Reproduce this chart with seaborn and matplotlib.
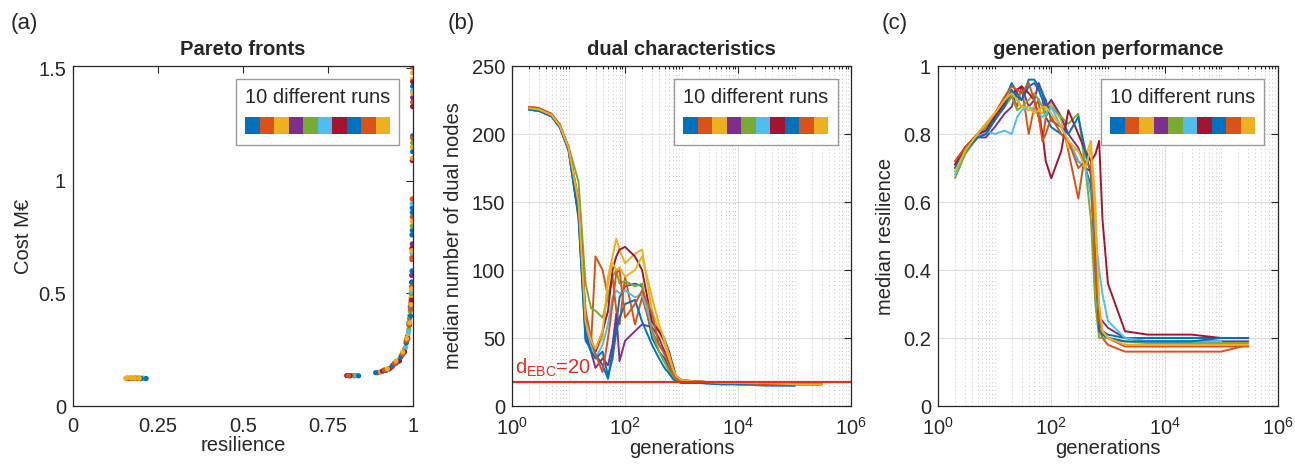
import numpy as np
import pandas as pd
import matplotlib
matplotlib.use("Agg")
import matplotlib.pyplot as plt
import matplotlib.ticker as mticker
from matplotlib.patches import Patch
import seaborn as sns

# ---------------- data ----------------
run_colors = ["#0072BD", "#D95319", "#EDB120", "#7E2F8E", "#77AC30",
              "#4DBEEE", "#A2142F", "#0072BD", "#D95319", "#EDB120"]
run_names = [f"run {i}" for i in range(1, 11)]

# (a) Pareto fronts: resilience / cost (M€) per run
a_res_1 = [0.165, 0.178, 0.19, 0.2, 0.212, 0.815, 0.83, 0.895, 0.935, 0.958, 0.972, 0.982, 0.988, 0.992, 0.995, 0.997, 0.998, 0.998, 0.999, 0.999]
a_cost_1 = [0.122, 0.122, 0.123, 0.123, 0.122, 0.134, 0.135, 0.148, 0.17, 0.2, 0.24, 0.3, 0.37, 0.44, 0.5, 0.6, 0.78, 0.88, 1.13, 1.42]
a_res_2 = [0.16, 0.172, 0.185, 0.198, 0.205, 0.81, 0.825, 0.9, 0.94, 0.96, 0.975, 0.984, 0.99, 0.994, 0.996, 0.997, 0.998, 0.999, 0.999, 0.999]
a_cost_2 = [0.123, 0.123, 0.123, 0.122, 0.123, 0.135, 0.135, 0.15, 0.175, 0.205, 0.25, 0.31, 0.39, 0.46, 0.53, 0.66, 0.84, 1.1, 1.35, 1.505]
a_res_3 = [0.155, 0.168, 0.18, 0.192, 0.2, 0.82, 0.905, 0.92, 0.945, 0.965, 0.977, 0.986, 0.99, 0.994, 0.996, 0.997, 0.998, 0.998, 0.999, 0.999]
a_cost_3 = [0.123, 0.124, 0.123, 0.123, 0.123, 0.135, 0.152, 0.16, 0.185, 0.22, 0.26, 0.32, 0.4, 0.48, 0.55, 0.7, 0.8, 1.15, 1.45, 1.48]
a_res_4 = [0.17, 0.185, 0.2, 0.83, 0.92, 0.95, 0.97, 0.982, 0.99, 0.994, 0.996, 0.998, 0.999]
a_cost_4 = [0.122, 0.123, 0.122, 0.135, 0.158, 0.19, 0.23, 0.29, 0.36, 0.45, 0.58, 0.72, 1.37]
a_res_5 = [0.175, 0.19, 0.205, 0.825, 0.93, 0.955, 0.97, 0.98, 0.988, 0.992, 0.995, 0.997, 0.998, 0.999]
a_cost_5 = [0.123, 0.123, 0.123, 0.135, 0.165, 0.2, 0.23, 0.28, 0.34, 0.42, 0.5, 0.55, 0.8, 1.17]
a_res_6 = [0.18, 0.195, 0.21, 0.835, 0.91, 0.94, 0.962, 0.978, 0.987, 0.993, 0.996, 0.997, 0.998, 0.999]
a_cost_6 = [0.122, 0.122, 0.123, 0.135, 0.155, 0.18, 0.21, 0.26, 0.33, 0.43, 0.51, 0.68, 0.9, 1.4]
a_res_7 = [0.165, 0.18, 0.195, 0.805, 0.815, 0.91, 0.93, 0.96, 0.975, 0.985, 0.99, 0.995, 0.997, 0.998, 0.999, 0.999]
a_cost_7 = [0.123, 0.123, 0.123, 0.135, 0.135, 0.155, 0.165, 0.2, 0.24, 0.3, 0.37, 0.47, 0.7, 1.09, 1.33, 1.44]
a_res_8 = [0.185, 0.2, 0.215, 0.84, 0.89, 0.94, 0.965, 0.98, 0.989, 0.993, 0.996, 0.997, 0.998, 0.999]
a_cost_8 = [0.123, 0.122, 0.122, 0.134, 0.148, 0.18, 0.22, 0.28, 0.36, 0.4, 0.55, 0.76, 0.86, 1.2]
a_res_9 = [0.16, 0.175, 0.19, 0.81, 0.915, 0.945, 0.968, 0.98, 0.988, 0.993, 0.996, 0.997, 0.998, 0.999]
a_cost_9 = [0.123, 0.123, 0.122, 0.135, 0.16, 0.19, 0.23, 0.29, 0.36, 0.43, 0.53, 0.65, 0.92, 1.19]
a_res_10 = [0.158, 0.17, 0.182, 0.195, 0.925, 0.95, 0.97, 0.982, 0.99, 0.994, 0.996, 0.997, 0.998, 0.999, 0.999]
a_cost_10 = [0.124, 0.124, 0.123, 0.123, 0.165, 0.2, 0.24, 0.3, 0.37, 0.45, 0.52, 0.69, 0.82, 1.1, 1.39]

# shared generation grid for (b) and (c)
generations = [2, 3, 5, 7, 10, 15, 20, 25, 30, 40, 50, 60, 70, 80, 100, 150, 200, 300, 400,
               500, 600, 700, 800, 1000, 2000, 5000, 10000, 30000, 100000, 300000]
nan = float("nan")

# (b) median number of dual nodes
b_run_1 = [218, 217, 213, 205, 188, 140, 48, 42, 38, 30, 20, 40, 60, 80, 88, 90, 88, 50, 40, 35, 28, 22, 19, 17, 17, 16, 16, 15, 15, nan]
b_run_2 = [220, 219, 215, 207, 190, 150, 60, 45, 110, 100, 80, 95, 70, 60, 95, 60, 80, 55, 45, 40, 32, 25, 20, 18, 18, 17, 17, 16, 16, 16]
b_run_3 = [219, 218, 214, 206, 189, 145, 65, 45, 40, 50, 95, 110, 123, 115, 105, 112, 115, 70, 55, 45, 35, 28, 22, 19, 18, 17, 17, 17, 16, 16]
b_run_4 = [218, 217, 213, 205, 189, 142, 55, 40, 28, 35, 30, 45, 68, 33, 48, 55, 60, 58, 50, 40, 30, 25, 20, 18, 17, 17, 16, 16, 16, nan]
b_run_5 = [219, 218, 214, 206, 191, 165, 90, 72, 70, 65, 80, 95, 100, 90, 92, 88, 90, 55, 40, 32, 26, 22, 19, 18, 17, 17, 16, 16, 16, 16]
b_run_6 = [218, 217, 213, 206, 189, 148, 60, 45, 35, 45, 60, 80, 85, 83, 85, 80, 82, 60, 55, 50, 40, 25, 20, 18, 17, 17, 16, 16, 15, nan]
b_run_7 = [219, 218, 214, 206, 190, 150, 65, 48, 40, 55, 70, 100, 110, 115, 117, 110, 100, 62, 55, 48, 40, 30, 22, 19, 18, 17, 17, 16, 16, 16]
b_run_8 = [218, 217, 213, 205, 188, 138, 50, 40, 35, 40, 22, 35, 55, 65, 75, 78, 62, 45, 35, 28, 24, 20, 18, 17, 17, 16, 16, 16, 15, nan]
b_run_9 = [220, 219, 214, 207, 190, 152, 70, 50, 38, 25, 50, 75, 98, 100, 65, 75, 85, 68, 45, 38, 30, 24, 20, 18, 18, 17, 17, 16, 16, 16]
b_run_10 = [219, 218, 214, 206, 190, 150, 62, 48, 42, 55, 90, 105, 100, 102, 95, 100, 110, 80, 60, 48, 38, 28, 22, 19, 18, 17, 17, 17, 16, 16]
d_ebc_level = 18

# (c) median resilience
c_run_1 = [0.70, 0.75, 0.79, 0.80, 0.84, 0.90, 0.95, 0.92, 0.90, 0.94, 0.95, 0.93, 0.90, 0.85, 0.82, 0.80, 0.78, 0.72, 0.70, 0.65, 0.45, 0.25, 0.22, 0.21, 0.20, 0.20, 0.20, 0.20, 0.20, 0.20]
c_run_2 = [0.72, 0.76, 0.80, 0.82, 0.85, 0.90, 0.92, 0.88, 0.94, 0.80, 0.88, 0.90, 0.78, 0.85, 0.90, 0.85, 0.75, 0.61, 0.75, 0.72, 0.50, 0.23, 0.20, 0.18, 0.16, 0.16, 0.16, 0.16, 0.16, 0.18]
c_run_3 = [0.69, 0.75, 0.80, 0.83, 0.86, 0.90, 0.93, 0.90, 0.88, 0.87, 0.88, 0.87, 0.86, 0.88, 0.89, 0.84, 0.76, 0.75, 0.73, 0.78, 0.60, 0.28, 0.22, 0.20, 0.18, 0.18, 0.18, 0.18, 0.18, 0.18]
c_run_4 = [0.71, 0.75, 0.79, 0.79, 0.82, 0.86, 0.88, 0.93, 0.94, 0.88, 0.90, 0.95, 0.92, 0.88, 0.90, 0.85, 0.80, 0.76, 0.70, 0.69, 0.45, 0.26, 0.25, 0.23, 0.20, 0.19, 0.19, 0.19, 0.19, 0.19]
c_run_5 = [0.67, 0.74, 0.79, 0.82, 0.85, 0.88, 0.91, 0.87, 0.88, 0.90, 0.92, 0.90, 0.88, 0.85, 0.88, 0.85, 0.83, 0.86, 0.70, 0.55, 0.30, 0.20, 0.20, 0.20, 0.19, 0.185, 0.185, 0.185, 0.185, 0.185]
c_run_6 = [0.68, 0.75, 0.79, 0.81, 0.80, 0.81, 0.80, 0.85, 0.87, 0.88, 0.87, 0.86, 0.85, 0.86, 0.88, 0.82, 0.78, 0.72, 0.70, 0.62, 0.50, 0.40, 0.33, 0.25, 0.20, 0.19, 0.19, 0.19, 0.19, nan]
c_run_7 = [0.71, 0.76, 0.80, 0.81, 0.85, 0.89, 0.92, 0.93, 0.94, 0.92, 0.90, 0.85, 0.80, 0.72, 0.67, 0.75, 0.87, 0.80, 0.75, 0.72, 0.74, 0.78, 0.55, 0.36, 0.22, 0.21, 0.21, 0.21, 0.20, nan]
c_run_8 = [0.70, 0.75, 0.79, 0.80, 0.84, 0.88, 0.93, 0.91, 0.90, 0.96, 0.96, 0.94, 0.92, 0.90, 0.84, 0.82, 0.80, 0.85, 0.75, 0.68, 0.40, 0.22, 0.21, 0.20, 0.19, 0.19, 0.19, 0.19, 0.20, 0.20]
c_run_9 = [0.72, 0.76, 0.80, 0.83, 0.86, 0.91, 0.94, 0.93, 0.92, 0.95, 0.90, 0.85, 0.78, 0.80, 0.85, 0.80, 0.78, 0.70, 0.72, 0.70, 0.40, 0.25, 0.22, 0.20, 0.175, 0.175, 0.175, 0.175, 0.175, 0.175]
c_run_10 = [0.69, 0.75, 0.80, 0.83, 0.86, 0.90, 0.92, 0.90, 0.88, 0.88, 0.86, 0.87, 0.88, 0.88, 0.86, 0.82, 0.78, 0.75, 0.70, 0.76, 0.55, 0.30, 0.22, 0.20, 0.18, 0.18, 0.18, 0.18, 0.18, 0.18]

a_res = [a_res_1, a_res_2, a_res_3, a_res_4, a_res_5, a_res_6, a_res_7, a_res_8, a_res_9, a_res_10]
a_cost = [a_cost_1, a_cost_2, a_cost_3, a_cost_4, a_cost_5, a_cost_6, a_cost_7, a_cost_8, a_cost_9, a_cost_10]
b_runs = [b_run_1, b_run_2, b_run_3, b_run_4, b_run_5, b_run_6, b_run_7, b_run_8, b_run_9, b_run_10]
c_runs = [c_run_1, c_run_2, c_run_3, c_run_4, c_run_5, c_run_6, c_run_7, c_run_8, c_run_9, c_run_10]

df_a = pd.concat([pd.DataFrame({"resilience": r, "cost": c, "run": n})
                  for r, c, n in zip(a_res, a_cost, run_names)], ignore_index=True)
df_b = pd.concat([pd.DataFrame({"gen": generations, "val": v, "run": n})
                  for v, n in zip(b_runs, run_names)], ignore_index=True).dropna()
df_c = pd.concat([pd.DataFrame({"gen": generations, "val": v, "run": n})
                  for v, n in zip(c_runs, run_names)], ignore_index=True).dropna()
palette = dict(zip(run_names, run_colors))

# ---------------- style ----------------
sns.set_style("white")
plt.rcParams["font.family"] = ["Liberation Sans", "DejaVu Sans"]
plt.rcParams["mathtext.fontset"] = "custom"
plt.rcParams["mathtext.rm"] = "Liberation Sans"
plt.rcParams["mathtext.it"] = "Liberation Sans:italic"
plt.rcParams["mathtext.bf"] = "Liberation Sans:bold"

TXT = "#262626"
FS = 14.5

fig = plt.figure(figsize=(12.95, 4.67), dpi=100)
ax_a = fig.add_axes([0.0564, 0.1306, 0.2625, 0.728])
ax_b = fig.add_axes([0.3954, 0.1306, 0.2618, 0.728])
ax_c = fig.add_axes([0.7243, 0.1306, 0.2625, 0.728])

# (a)
sns.scatterplot(data=df_a, x="resilience", y="cost", hue="run", palette=palette,
                s=14, linewidth=0, legend=False, ax=ax_a)
ax_a.set_xlim(0, 1)
ax_a.set_ylim(0, 1.51)
ax_a.set_xticks([0, 0.25, 0.5, 0.75, 1])
ax_a.set_yticks([0, 0.5, 1, 1.5])
ax_a.set_xlabel("resilience", fontsize=FS, color=TXT, labelpad=0)
ax_a.set_ylabel("Cost M€", fontsize=FS, color=TXT, labelpad=4)
ax_a.set_title("Pareto fronts", fontsize=FS, fontweight="bold", pad=8)

# (b)
sns.lineplot(data=df_b, x="gen", y="val", hue="run", palette=palette, estimator=None,
             sort=False, linewidth=1.4, legend=False, ax=ax_b)
ax_b.axhline(d_ebc_level, color="#E0301E", linewidth=1.6)
ax_b.text(0.008, d_ebc_level + 2, r"d$_{\rm EBC}$=20", color="#E0301E", fontsize=FS,
          transform=ax_b.get_yaxis_transform(), ha="left", va="bottom")
ax_b.set_ylim(0, 250)
ax_b.set_yticks([0, 50, 100, 150, 200, 250])
ax_b.set_xlabel("generations", fontsize=FS, color=TXT, labelpad=0)
ax_b.set_ylabel("median number of dual nodes", fontsize=FS, color=TXT, labelpad=6)
ax_b.set_title("dual characteristics", fontsize=FS, fontweight="bold", pad=8)

# (c)
sns.lineplot(data=df_c, x="gen", y="val", hue="run", palette=palette, estimator=None,
             sort=False, linewidth=1.4, legend=False, ax=ax_c)
ax_c.set_ylim(0, 1)
ax_c.set_yticks([0, 0.2, 0.4, 0.6, 0.8, 1])
ax_c.set_xlabel("generations", fontsize=FS, color=TXT, labelpad=0)
ax_c.set_ylabel("median resilience", fontsize=FS, color=TXT, labelpad=6)
ax_c.set_title("generation performance", fontsize=FS, fontweight="bold", pad=8)

for ax in (ax_b, ax_c):
    ax.set_xscale("log")
    ax.set_xlim(1, 1e6)
    ax.xaxis.set_major_locator(mticker.FixedLocator([1, 1e2, 1e4, 1e6]))
    ax.xaxis.set_major_formatter(mticker.LogFormatterMathtext())
    ax.xaxis.set_minor_locator(mticker.LogLocator(base=10, subs=np.arange(1, 10), numticks=30))
    ax.xaxis.set_minor_formatter(mticker.NullFormatter())
    ax.grid(True, which="major", color="#dedede", linewidth=0.8, linestyle="-")
    ax.grid(True, which="minor", axis="x", color="#c4c4c4", linewidth=0.7, linestyle=(0, (1, 3)))
    ax.set_axisbelow(True)

fmt = mticker.FuncFormatter(lambda v, p: f"{v:g}")
for ax in (ax_a, ax_b, ax_c):
    if ax is ax_a:
        ax.xaxis.set_major_formatter(fmt)
    ax.yaxis.set_major_formatter(fmt)
    ax.tick_params(which="both", direction="in", top=True, right=True, labelsize=FS,
                   colors=TXT, width=0.8)
    ax.tick_params(which="major", length=5)
    ax.tick_params(which="minor", length=2.5)
    ax.tick_params(axis="x", which="major", pad=8)
    ax.tick_params(axis="y", which="major", pad=5)
    for sp in ax.spines.values():
        sp.set_color(TXT)
        sp.set_linewidth(0.9)
    handles = [Patch(facecolor=c, edgecolor="none") for c in run_colors]
    ax.legend(handles, [""] * 10, ncol=10, title="10 different runs",
              title_fontsize=FS, fontsize=FS, handlelength=0.72, handleheight=0.92,
              handletextpad=0, columnspacing=0, borderpad=0.45,
              loc="upper right", bbox_to_anchor=(0.96, 0.963), borderaxespad=0,
              frameon=True, fancybox=False, framealpha=1, edgecolor="#9a9a9a")

for label, x in (("(a)", 0.008), ("(b)", 0.346), ("(c)", 0.681)):
    fig.text(x, 0.95, label, fontsize=16, color=TXT, ha="left", va="center")

fig.savefig("out.png", dpi=100)
